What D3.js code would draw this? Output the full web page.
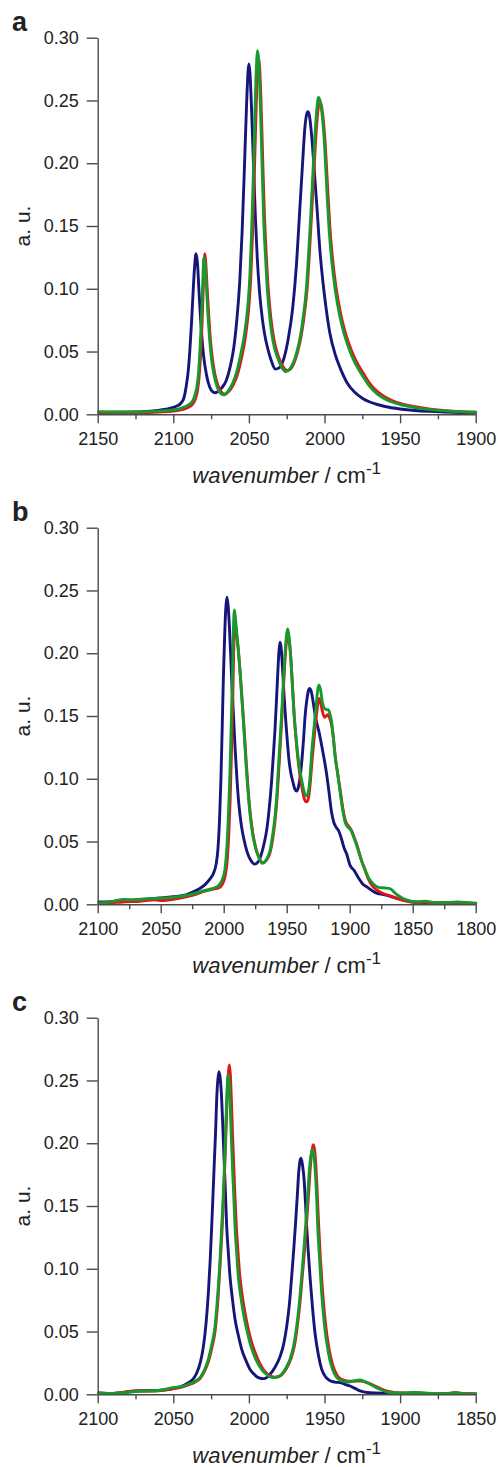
<!DOCTYPE html>
<html>
<head>
<meta charset="utf-8">
<script src="https://cdn.jsdelivr.net/npm/d3@7"></script>
<style>
  html, body { margin: 0; padding: 0; background: #fff; }
  svg { display: block; }
  text { font-family: "Liberation Sans", Arial, sans-serif; fill: #222; }
</style>
</head>
<body>
<div id="chart"></div>
<script>
// ---------- data ----------
const panelLetters = ["a", "b", "c"];
const xDomains = [[2150, 1900], [2100, 1800], [2100, 1850]];
const xMajorTicks = [
  [2150, 2100, 2050, 2000, 1950, 1900],
  [2100, 2050, 2000, 1950, 1900, 1850, 1800],
  [2100, 2050, 2000, 1950, 1900, 1850]
];
const xMinorTicks = [
  [2125, 2075, 2025, 1975, 1925],
  [2075, 2025, 1975, 1925, 1875, 1825],
  [2075, 2025, 1975, 1925, 1875]
];
const yTicks = [0, 0.05, 0.10, 0.15, 0.20, 0.25, 0.30];
const yTickLabels = ["0.00", "0.05", "0.10", "0.15", "0.20", "0.25", "0.30"];
const seriesColors = { blue: "#16167a", red: "#e3141c", green: "#179a2b" };

// panel a
const aBlue = [[2150,0.0015],[2135,0.0017],[2120,0.002],[2110,0.003],[2105,0.004],[2100,0.0055],[2097,0.007],[2095,0.0088],[2093,0.013],[2091.5,0.022],[2090,0.036],[2089,0.052],[2088,0.072],[2087,0.095],[2086,0.116],[2085,0.128],[2084,0.12],[2083,0.098],[2082,0.077],[2081,0.06],[2080,0.047],[2078,0.031],[2076,0.022],[2074,0.018],[2072.5,0.0172],[2070,0.0185],[2068,0.021],[2065,0.027],[2062,0.04],[2060,0.053],[2058,0.075],[2056,0.107],[2054.5,0.145],[2053,0.195],[2051.5,0.248],[2050.5,0.274],[2050,0.279],[2049.3,0.272],[2048.3,0.245],[2047,0.2],[2045.8,0.16],[2044.5,0.125],[2043,0.098],[2041,0.075],[2039,0.06],[2037,0.05],[2035,0.042],[2032.5,0.036],[2030,0.037],[2027,0.044],[2024,0.06],[2021,0.085],[2018.5,0.12],[2016.5,0.16],[2014.5,0.2],[2013,0.228],[2011.8,0.239],[2011,0.241],[2010,0.238],[2008.5,0.222],[2007,0.198],[2005,0.165],[2003,0.13],[2001,0.105],[1999,0.085],[1996.5,0.065],[1993,0.048],[1990,0.038],[1985,0.025],[1980,0.0175],[1975,0.0128],[1970,0.0098],[1965,0.0078],[1960,0.0062],[1950,0.0042],[1940,0.003],[1930,0.0023],[1920,0.0018],[1910,0.0014],[1900,0.0012]];
const aRed = [[2150,0.0008],[2135,0.001],[2120,0.0012],[2110,0.0018],[2100,0.0025],[2095,0.0035],[2090,0.0055],[2087,0.0085],[2085.5,0.012],[2084,0.019],[2083,0.029],[2082,0.046],[2081,0.072],[2080.2,0.1],[2079.6,0.122],[2079.2,0.128],[2078.6,0.122],[2077.6,0.1],[2076.5,0.078],[2075.5,0.06],[2074,0.043],[2072.5,0.032],[2070.5,0.023],[2068,0.0175],[2066,0.016],[2063.5,0.018],[2060.5,0.023],[2057.5,0.032],[2054.5,0.047],[2052.5,0.06],[2051,0.074],[2049.8,0.089],[2048.8,0.108],[2047.8,0.137],[2046.8,0.175],[2045.8,0.218],[2044.8,0.26],[2043.8,0.2836],[2043,0.278],[2042,0.25],[2040.8,0.2],[2039.7,0.158],[2038.5,0.127],[2037.5,0.105],[2035.5,0.077],[2033.5,0.06],[2030.5,0.046],[2027.5,0.038],[2025,0.035],[2022.5,0.036],[2019.5,0.043],[2017.5,0.051],[2015.5,0.062],[2013.5,0.078],[2011.5,0.1],[2010,0.128],[2008.5,0.16],[2007,0.194],[2005.5,0.225],[2004.5,0.24],[2003.3,0.249],[2002.3,0.247],[2001,0.237],[1999.5,0.215],[1998,0.182],[1996.5,0.15],[1994.5,0.122],[1992.5,0.102],[1989.5,0.081],[1986.5,0.066],[1983.5,0.055],[1980.5,0.046],[1977.5,0.039],[1974.5,0.033],[1970,0.0245],[1965,0.018],[1960,0.0138],[1955,0.0108],[1950,0.0087],[1940,0.006],[1930,0.0041],[1920,0.0029],[1910,0.0021],[1900,0.0016]];
const aGreen = [[2150,0.002],[2135,0.0018],[2120,0.002],[2110,0.0025],[2100,0.0035],[2095,0.0048],[2090,0.0075],[2087,0.011],[2085.5,0.016],[2084,0.025],[2083,0.038],[2082,0.06],[2081,0.088],[2080.3,0.112],[2079.7,0.125],[2079,0.12],[2078,0.1],[2077,0.078],[2076,0.06],[2074.5,0.042],[2073,0.031],[2071,0.022],[2068.5,0.0165],[2066.5,0.0155],[2064,0.018],[2061,0.024],[2058,0.034],[2055,0.05],[2053,0.063],[2051.5,0.077],[2050.3,0.092],[2049.3,0.112],[2048.3,0.142],[2047.3,0.18],[2046.3,0.225],[2045.3,0.268],[2044.3,0.2897],[2043.5,0.282],[2042.5,0.25],[2041.3,0.2],[2040.2,0.155],[2039,0.125],[2038,0.103],[2036,0.075],[2034,0.058],[2031,0.045],[2028,0.037],[2025.5,0.034],[2023,0.036],[2020,0.043],[2018,0.051],[2016,0.062],[2014,0.078],[2012,0.1],[2010.5,0.128],[2009,0.16],[2007.5,0.196],[2006,0.228],[2005,0.244],[2004,0.2525],[2002.8,0.249],[2001.5,0.238],[2000,0.215],[1998.5,0.18],[1997,0.148],[1995,0.12],[1993,0.1],[1990,0.079],[1987,0.064],[1984,0.053],[1981,0.044],[1978,0.037],[1975,0.031],[1970,0.022],[1965,0.016],[1960,0.0122],[1955,0.0096],[1950,0.0078],[1940,0.0053],[1930,0.0037],[1920,0.0027],[1910,0.002],[1900,0.0016]];

// panel b
const bBlue = [[2100,0.0018],[2090,0.002],[2080,0.003],[2070,0.0035],[2060,0.0042],[2050,0.005],[2040,0.006],[2030,0.0075],[2025,0.0095],[2020,0.012],[2015,0.0155],[2011,0.02],[2008,0.025],[2006,0.032],[2004.5,0.045],[2003.2,0.07],[2002.2,0.1],[2001.2,0.14],[2000.3,0.179],[1999.3,0.212],[1998.4,0.235],[1997.4,0.2446],[1996.5,0.238],[1995.5,0.222],[1994.5,0.2],[1993.5,0.175],[1992.2,0.15],[1991,0.125],[1989.5,0.1],[1988,0.08],[1986,0.063],[1984,0.052],[1981.5,0.042],[1978.5,0.035],[1975.5,0.032],[1972.5,0.034],[1969.8,0.041],[1967.8,0.049],[1965.9,0.059],[1964,0.075],[1962,0.098],[1960.5,0.12],[1959.3,0.139],[1958,0.165],[1957,0.186],[1956.1,0.202],[1955.3,0.2087],[1954.4,0.204],[1953.2,0.186],[1952,0.165],[1950.8,0.147],[1949.5,0.13],[1948.3,0.116],[1946.8,0.105],[1945.2,0.098],[1943.6,0.092],[1942.1,0.0903],[1940.8,0.093],[1939.5,0.1],[1938.1,0.113],[1936.6,0.132],[1935.4,0.15],[1934,0.163],[1932.8,0.17],[1932,0.172],[1931,0.171],[1929.8,0.166],[1928.5,0.158],[1927,0.148],[1925.8,0.143],[1924.5,0.138],[1922.5,0.128],[1920.5,0.117],[1918.5,0.105],[1916.5,0.09],[1914.5,0.074],[1912.5,0.065],[1910.5,0.061],[1908.5,0.058],[1906.5,0.052],[1904.5,0.045],[1902.4,0.04],[1899.7,0.031],[1896.5,0.027],[1893,0.021],[1889.5,0.016],[1886.5,0.014],[1880,0.0095],[1870.6,0.0072],[1862,0.0045],[1855,0.003],[1850,0.0018],[1845,0.0015],[1838,0.0012],[1830,0.001],[1820,0.0012],[1810,0.001],[1800,0.0008]];
const bRed = [[2100,0.0008],[2092,0.001],[2085,0.0015],[2078,0.002],[2070,0.0022],[2062,0.003],[2055,0.0035],[2048,0.003],[2040,0.004],[2030,0.006],[2022,0.008],[2015,0.0105],[2009,0.012],[2004,0.013],[2001,0.016],[1999,0.022],[1997.3,0.034],[1996,0.055],[1995,0.08],[1994,0.115],[1993,0.155],[1992.2,0.195],[1991.3,0.224],[1990.5,0.222],[1989.5,0.213],[1988.2,0.2],[1986.8,0.183],[1985.5,0.165],[1983.8,0.14],[1982.1,0.113],[1980.5,0.09],[1978.9,0.072],[1976.8,0.056],[1974.8,0.046],[1971.8,0.037],[1969.2,0.033],[1966.2,0.035],[1963,0.042],[1960.8,0.054],[1959.1,0.068],[1957.7,0.084],[1956.3,0.107],[1954.8,0.132],[1953.8,0.15],[1952.4,0.176],[1951.1,0.198],[1950,0.211],[1949,0.215],[1947.9,0.209],[1946.6,0.194],[1945.3,0.172],[1944,0.15],[1942.6,0.132],[1941.1,0.116],[1939.4,0.102],[1937.9,0.093],[1936.3,0.085],[1935,0.0818],[1933.8,0.0817],[1932.5,0.086],[1931.2,0.098],[1930,0.113],[1928.2,0.133],[1926.5,0.15],[1925.2,0.16],[1924.1,0.164],[1922.9,0.16],[1921.5,0.153],[1920,0.149],[1918.7,0.15],[1917.4,0.151],[1915.8,0.148],[1914.4,0.143],[1913,0.133],[1911.4,0.117],[1909.5,0.104],[1907.4,0.09],[1905.2,0.075],[1903.2,0.066],[1900.7,0.062],[1898.7,0.059],[1896.7,0.054],[1894.2,0.047],[1890.7,0.035],[1887.7,0.027],[1884.7,0.019],[1881,0.0135],[1877,0.0105],[1872,0.008],[1867,0.0065],[1862,0.0045],[1856,0.0028],[1850,0.0018],[1840,0.0015],[1830,0.001],[1820,0.0012],[1810,0.001],[1800,0.0005]];
const bGreen = [[2100,0.001],[2092,0.0015],[2085,0.003],[2080,0.0038],[2072,0.0035],[2065,0.004],[2058,0.0045],[2050,0.005],[2040,0.0055],[2030,0.007],[2022,0.009],[2015,0.011],[2009,0.0125],[2004,0.015],[2001,0.02],[1999,0.028],[1997.5,0.045],[1996.3,0.07],[1995.2,0.1],[1994.1,0.14],[1993.1,0.18],[1992.3,0.218],[1991.5,0.2345],[1990.7,0.228],[1989.6,0.215],[1988.4,0.203],[1987,0.185],[1985.7,0.165],[1984,0.14],[1982.3,0.112],[1980.7,0.09],[1979.1,0.072],[1977,0.056],[1975,0.046],[1972,0.037],[1969.5,0.0327],[1966.5,0.035],[1963.2,0.043],[1961,0.056],[1959.3,0.07],[1957.9,0.086],[1956.5,0.11],[1955,0.135],[1954,0.152],[1952.6,0.178],[1951.3,0.2],[1950.2,0.214],[1949.2,0.2193],[1948.1,0.213],[1946.8,0.197],[1945.5,0.175],[1944.2,0.152],[1942.8,0.135],[1941.3,0.12],[1939.6,0.107],[1938.1,0.099],[1936.5,0.091],[1935,0.087],[1933.8,0.0865],[1932.4,0.092],[1931.2,0.105],[1930.2,0.12],[1928.4,0.14],[1926.7,0.157],[1925.5,0.17],[1924.3,0.1747],[1923,0.17],[1921.7,0.161],[1920,0.156],[1918.5,0.155],[1917,0.155],[1915.5,0.151],[1914.3,0.145],[1913,0.133],[1911.6,0.118],[1909.7,0.105],[1907.7,0.09],[1905.5,0.075],[1903.5,0.065],[1901,0.061],[1899,0.059],[1897,0.054],[1894.5,0.047],[1891,0.036],[1888,0.028],[1885,0.021],[1881,0.016],[1877,0.0135],[1872,0.013],[1868,0.0125],[1864,0.009],[1860,0.006],[1855,0.0035],[1850,0.0022],[1845,0.002],[1840,0.0025],[1833,0.0015],[1825,0.0012],[1815,0.0018],[1808,0.0015],[1800,0.0005]];

// panel c
const cBlue = [[2100,0.001],[2092,0.0006],[2085,0.0012],[2078,0.0022],[2070,0.0028],[2062,0.003],[2055,0.0035],[2050,0.0045],[2045,0.0062],[2040,0.0093],[2037,0.012],[2034.5,0.017],[2032,0.026],[2030.1,0.038],[2028.3,0.057],[2026.8,0.081],[2025.6,0.107],[2024.6,0.134],[2023.7,0.16],[2022.8,0.187],[2022,0.21],[2021.3,0.235],[2020.5,0.251],[2019.8,0.257],[2019,0.252],[2018,0.235],[2017.2,0.212],[2016.4,0.187],[2015.5,0.16],[2014.7,0.134],[2013.6,0.113],[2012.5,0.094],[2010.8,0.075],[2009.2,0.06],[2007,0.047],[2004.8,0.036],[2002,0.027],[1999.3,0.02],[1997,0.0165],[1994.8,0.014],[1992.5,0.0128],[1990.4,0.0125],[1988,0.0135],[1986,0.016],[1983,0.021],[1979.4,0.03],[1977,0.04],[1975,0.054],[1973.2,0.072],[1971.7,0.094],[1970.3,0.116],[1969,0.139],[1968,0.158],[1967.1,0.176],[1966.2,0.186],[1965.5,0.188],[1964.6,0.183],[1963.5,0.171],[1962.6,0.153],[1961.8,0.134],[1960.7,0.113],[1959.6,0.094],[1958,0.07],[1956.3,0.049],[1954,0.031],[1951.9,0.02],[1949,0.0135],[1946.3,0.0108],[1943,0.0097],[1939.7,0.0093],[1936.5,0.008],[1933.1,0.0066],[1929.5,0.0045],[1926.5,0.0027],[1920,0.0012],[1910,0.0009],[1900,0.0008],[1890,0.0007],[1880,0.0005],[1870,0.0003],[1860,0.0003],[1850,0.0002]];
const cRed = [[2100,0.0008],[2092,0.0005],[2085,0.0012],[2078,0.0025],[2072,0.0028],[2065,0.0025],[2058,0.003],[2050,0.0045],[2045,0.0055],[2040,0.0075],[2036,0.0095],[2032.3,0.0125],[2029.5,0.018],[2026.8,0.026],[2024.5,0.037],[2022.3,0.051],[2020.5,0.075],[2019,0.104],[2017.8,0.13],[2016.7,0.158],[2015.8,0.187],[2015,0.215],[2014.2,0.243],[2013.4,0.258],[2012.9,0.2624],[2012.3,0.255],[2011.6,0.235],[2010.9,0.21],[2010.1,0.185],[2009.3,0.16],[2008.4,0.136],[2007.3,0.115],[2006.2,0.097],[2004.7,0.081],[2003,0.068],[2000.8,0.054],[1998.6,0.043],[1995.8,0.033],[1993,0.025],[1990.3,0.0195],[1987.6,0.016],[1985.2,0.0142],[1983,0.0137],[1980.5,0.014],[1977.8,0.0162],[1975,0.021],[1972.3,0.028],[1970,0.038],[1968,0.054],[1966.3,0.072],[1964.7,0.094],[1963.1,0.116],[1961.7,0.139],[1960.4,0.162],[1959.3,0.182],[1958.3,0.194],[1957.4,0.1988],[1956.5,0.194],[1955.6,0.18],[1954.8,0.16],[1954,0.138],[1952.8,0.11],[1951.4,0.084],[1949.5,0.058],[1947,0.036],[1944.5,0.023],[1941.5,0.0148],[1938,0.0115],[1934,0.0105],[1930,0.0105],[1926,0.0105],[1922,0.0095],[1917.5,0.0072],[1913,0.0045],[1908.5,0.0025],[1904,0.0015],[1898,0.001],[1890,0.0012],[1880,0.0005],[1870,0.0006],[1863,0.0012],[1856,0.0004],[1850,0.0002]];
const cGreen = [[2100,0.0012],[2092,0.0006],[2085,0.001],[2078,0.0018],[2070,0.0025],[2062,0.0028],[2055,0.004],[2050,0.0055],[2045,0.006],[2040,0.008],[2036,0.01],[2032.3,0.0133],[2029.5,0.019],[2026.8,0.028],[2024.5,0.04],[2022.4,0.054],[2020.7,0.078],[2019.1,0.107],[2018,0.133],[2016.9,0.16],[2016,0.187],[2015.3,0.213],[2014.5,0.24],[2013.8,0.2544],[2013,0.248],[2012.5,0.235],[2011.7,0.208],[2010.9,0.182],[2010,0.158],[2009.2,0.134],[2008.1,0.113],[2007,0.094],[2005.4,0.078],[2003.7,0.065],[2001.5,0.052],[1999.3,0.041],[1996.5,0.031],[1993.8,0.024],[1991,0.019],[1988.3,0.016],[1986,0.014],[1983.8,0.0133],[1981,0.0138],[1978.3,0.016],[1975.5,0.021],[1972.8,0.028],[1970.5,0.038],[1968.4,0.054],[1966.7,0.072],[1965.1,0.094],[1963.6,0.116],[1962.2,0.139],[1961,0.16],[1960,0.179],[1959,0.19],[1958,0.1953],[1957,0.19],[1956,0.176],[1955.2,0.157],[1954.5,0.134],[1953.2,0.107],[1951.9,0.081],[1950,0.055],[1947.4,0.033],[1945,0.021],[1941.9,0.0133],[1938,0.0105],[1934,0.0098],[1930,0.0108],[1926.5,0.0114],[1922,0.0092],[1917.7,0.0066],[1913,0.0038],[1908.9,0.002],[1904,0.0012],[1898,0.001],[1890,0.0015],[1884,0.001],[1876,0.0005],[1868,0.0006],[1864,0.0014],[1860,0.0008],[1855,0.0003],[1850,0.0002]];

const panelSeries = [
  [["blue", aBlue], ["red", aRed], ["green", aGreen]],
  [["blue", bBlue], ["red", bRed], ["green", bGreen]],
  [["blue", cBlue], ["red", cRed], ["green", cGreen]]
];

// ---------- layout ----------
const W = 498, H = 1467;
const plotLeft = 97.7, plotRight = 475.7, plotH = 376.6;
const plotTops = [37.7, 527.7, 1017.7];

const svg = d3.select("#chart").append("svg")
  .attr("width", W).attr("height", H);

panelLetters.forEach((letter, i) => {
  const top = plotTops[i];
  const x = d3.scaleLinear().domain(xDomains[i]).range([plotLeft, plotRight]);
  const y = d3.scaleLinear().domain([0, 0.30]).range([top + plotH, top]);
  const g = svg.append("g");

  // curves
  const line = d3.line()
    .x(d => x(d[0])).y(d => y(d[1]))
    .curve(d3.curveMonotoneX);
  const clipId = "clip" + i;
  g.append("clipPath").attr("id", clipId).append("rect")
    .attr("x", plotLeft).attr("y", top - 10)
    .attr("width", plotRight - plotLeft + 2).attr("height", plotH + 10);
  const curves = g.append("g").attr("clip-path", `url(#${clipId})`);
  panelSeries[i].forEach(([name, data]) => {
    const sorted = data.slice().sort((p, q) => q[0] - p[0]);
    curves.append("path")
      .datum(sorted)
      .attr("d", line)
      .attr("fill", "none")
      .attr("stroke", seriesColors[name])
      .attr("stroke-width", 2.9)
      .attr("stroke-linejoin", "round")
      .attr("stroke-linecap", "round");
  });

  // y axis
  const yAxis = d3.axisLeft(y)
    .tickValues(yTicks)
    .tickFormat((d, k) => yTickLabels[k])
    .tickSize(11).tickSizeOuter(0).tickPadding(8);
  const yg = g.append("g").attr("transform", `translate(${plotLeft},0)`).call(yAxis);

  // x axis major
  const xAxis = d3.axisBottom(x)
    .tickValues(xMajorTicks[i])
    .tickFormat(d3.format("d"))
    .tickSize(9).tickSizeOuter(0).tickPadding(9);
  const xg = g.append("g").attr("transform", `translate(0,${top + plotH})`).call(xAxis);

  // x axis minor
  const xMinor = d3.axisBottom(x)
    .tickValues(xMinorTicks[i])
    .tickFormat("")
    .tickSize(5).tickSizeOuter(0);
  const xmg = g.append("g").attr("transform", `translate(0,${top + plotH})`).call(xMinor);
  xmg.select(".domain").remove();

  [yg, xg, xmg].forEach(ax => {
    ax.selectAll("path.domain").attr("stroke", "#4a4a4a").attr("stroke-width", 1.4);
    ax.selectAll(".tick line").attr("stroke", "#4a4a4a").attr("stroke-width", 1.4);
    ax.selectAll(".tick text")
      .attr("fill", "#222")
      .style("font-family", "'Liberation Sans', Arial, sans-serif")
      .style("font-size", "18px");
  });

  // panel letter
  svg.append("text")
    .attr("x", 12).attr("y", top - 7)
    .style("font-size", "27px").style("font-weight", "bold")
    .text(letter);

  // y title
  svg.append("text")
    .attr("transform", `translate(30,${top + plotH / 2}) rotate(-90)`)
    .attr("text-anchor", "middle")
    .style("font-size", "21px")
    .text("a. u.");

  // x title
  const xt = svg.append("text")
    .attr("x", (plotLeft + plotRight) / 2)
    .attr("y", top + plotH + 69)
    .attr("text-anchor", "middle")
    .style("font-size", "22px");
  xt.append("tspan").style("font-style", "italic").text("wavenumber");
  xt.append("tspan").text(" / cm");
  xt.append("tspan").attr("dy", -9).style("font-size", "17px").text("-1");
});
</script>
</body>
</html>
